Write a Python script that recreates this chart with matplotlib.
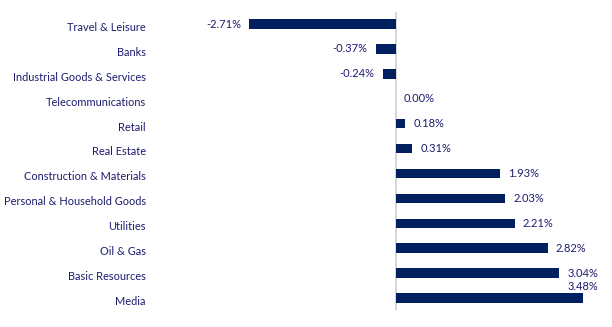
import matplotlib.pyplot as plt

sectors = ['Travel & Leisure', 'Banks', 'Industrial Goods & Services', 'Telecommunications',
           'Retail', 'Real Estate', 'Construction & Materials', 'Personal & Household Goods',
           'Utilities', 'Oil & Gas', 'Basic Resources', 'Media']
changes = [-2.71, -0.37, -0.24, 0.00, 0.18, 0.31, 1.93, 2.03, 2.21, 2.82, 3.04, 3.48]

bar_color = '#002060'
text_color = '#1c1c70'
plt.rcParams['font.family'] = ['Lato', 'DejaVu Sans']

fig = plt.figure(figsize=(6.12, 3.27), dpi=100)
ax = fig.add_axes([0.25, 0.0505, 0.731, 0.914])

pos = list(range(len(sectors)))
ax.barh(pos, changes, height=0.38, color=bar_color)
ax.set_ylim(len(sectors) - 0.5, -0.5)
ax.set_xlim(-4.5, 3.8)
ax.axvline(0, color='#d0d0d0', lw=1.2, zorder=0)

for i, v in enumerate(changes):
    label = f'{v:.2f}%'
    if i == len(changes) - 1:
        # last bar runs to the edge, so its label sits above the bar end
        ax.annotate(label, (v, i), xytext=(0, 8.5), textcoords='offset points',
                    ha='center', va='center', fontsize=8, color=text_color)
    elif v < 0:
        ax.annotate(label, (v, i), xytext=(-6, 0), textcoords='offset points',
                    ha='right', va='center', fontsize=8, color=text_color)
    else:
        ax.annotate(label, (v, i), xytext=(6, 0), textcoords='offset points',
                    ha='left', va='center', fontsize=8, color=text_color)

# category names sit a little below their bars
for i, name in enumerate(sectors):
    ax.text(146 / 612, 1 - (11.5 + 24.9 * i + 16.0) / 327, name,
            transform=fig.transFigure, ha='right', va='center',
            fontsize=7.9, color=text_color)

ax.axis('off')
fig.savefig('out.png', dpi=100)
